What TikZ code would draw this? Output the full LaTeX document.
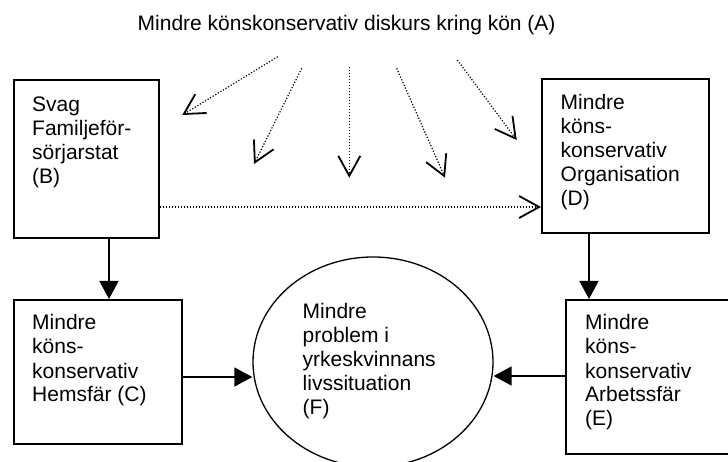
\documentclass[tikz,border=0pt]{standalone}
\usepackage{fontspec}
\setmainfont{Liberation Sans}
\usetikzlibrary{arrows.meta,shapes.geometric}
\newcommand{\mylines}[1]{\begin{tabular}[t]{@{}l@{}}#1\end{tabular}}
\begin{document}
\begin{tikzpicture}[x=1pt,y=-1pt,
  box/.style={draw,line width=1.6pt,inner sep=0pt,anchor=north west},
  lbl/.style={anchor=base west,inner sep=0pt,font=\fontsize{21}{24}\selectfont},
  solidarrow/.style={line width=1.4pt,-{Triangle[length=18pt,width=19pt]}},
  dotarrow/.style={line width=1.2pt,dash pattern=on 1.2pt off 1.8pt,-{Straight Barb[length=20pt,width=22pt,line width=1.8pt]}}]
\useasboundingbox (0,0) rectangle (728,462);
\clip (0,0) rectangle (728,462);

% title
\node[lbl] (A) at (137.5,31) {Mindre könskonservativ diskurs kring kön (A)};

% boxes
\node[box,minimum width=145pt,minimum height=158pt] (B) at (13,79) {};
\node[box,minimum width=167pt,minimum height=154pt] (D) at (541,78) {};
\node[box,minimum width=168pt,minimum height=144pt] (C) at (13,299) {};
\node[box,minimum width=172pt,minimum height=154pt] (E) at (565,299) {};
\node[draw,ellipse,line width=1.3pt,minimum width=240pt,minimum height=210pt,inner sep=0pt] (F) at (373,362) {};

% texts
\node[lbl] (Bt) at (32,112) {\mylines{Svag\\Familjeför-\\sörjarstat\\(B)}};
\node[lbl] (Dt) at (560.5,109.5) {\mylines{Mindre\\köns-\\konservativ\\Organisation\\(D)}};
\node[lbl] (Ct) at (32,330) {\mylines{Mindre\\köns-\\konservativ\\Hemsfär (C)}};
\node[lbl] (Et) at (585,330) {\mylines{Mindre\\köns-\\konservativ\\Arbetssfär\\(E)}};
\node[lbl] (Ft) at (302.5,318.5) {\mylines{Mindre\\problem i\\yrkeskvinnans\\livssituation\\(F)}};

% solid arrows
\coordinate (xbc) at (109,0);
\coordinate (xde) at (589,0);
\coordinate (ycf) at (0,377);
\coordinate (yef) at (0,376);
\draw[solidarrow] (B.south -| xbc) -- (C.north -| xbc);
\draw[solidarrow] (D.south -| xde) -- (E.north -| xde);
\draw[solidarrow] (C.east |- ycf) -- (F.west |- ycf);
\draw[solidarrow] (E.west |- yef) -- (F.east |- yef);

% dotted arrows from A
\coordinate (s1) at (277.7,56.7); \coordinate (t1) at (182.3,115);
\coordinate (s2) at (301.7,68.3); \coordinate (t2) at (254,164);
\coordinate (s3) at (349.3,67.3); \coordinate (t3) at (349.3,177.7);
\coordinate (s4) at (396.7,68.3); \coordinate (t4) at (445,177.7);
\coordinate (s5) at (457.3,60);   \coordinate (t5) at (516.7,140);
\foreach \i in {1,...,5} { \draw[dotarrow] (s\i) -- (t\i); }

% dotted B -> D
\coordinate (yh) at (0,207);
\draw[dotarrow] (B.east |- yh) -- (D.west |- yh);
\end{tikzpicture}
\end{document}
